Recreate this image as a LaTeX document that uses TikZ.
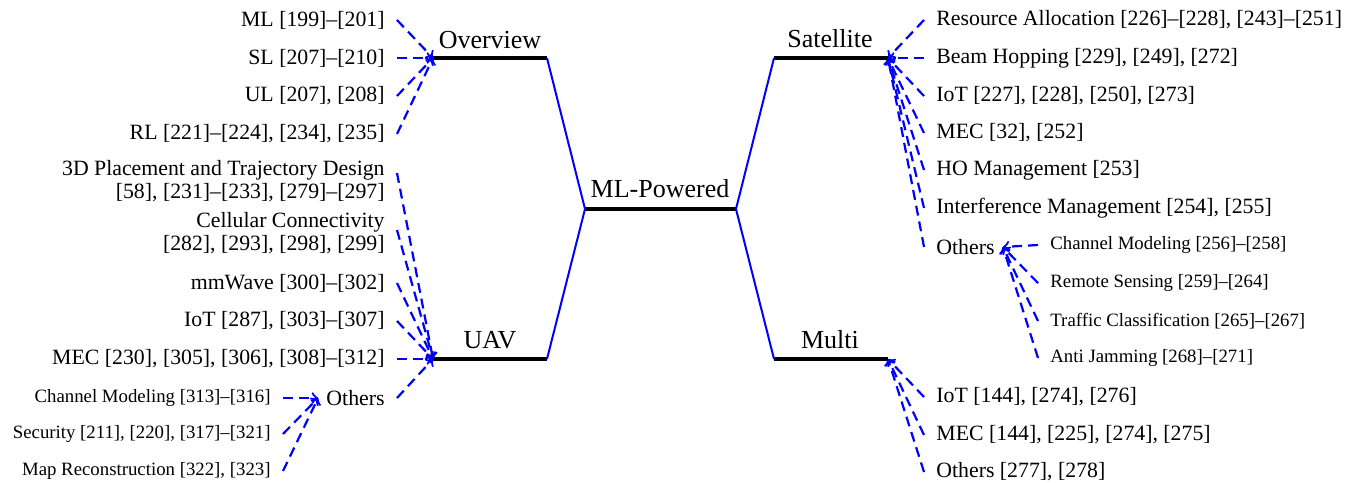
\documentclass[tikz,border=0pt]{standalone}
\usepackage{fontspec}
\setmainfont{Liberation Serif}
\begin{document}
\begin{tikzpicture}[x=0.5pt,y=-0.5pt,
  bar/.style={line width=2pt,black},
  link/.style={blue,line width=1pt},
  edge/.style={blue,line width=1.1pt,dash pattern=on 5pt off 3pt,->},
  head/.style={font=\fontsize{13}{15}\selectfont,inner sep=0pt,anchor=base},
  lleaf/.style={font=\fontsize{10.9}{11.5}\selectfont,anchor=east,inner xsep=6pt,inner ysep=1pt,align=right},
  rleaf/.style={font=\fontsize{10.9}{11.5}\selectfont,anchor=west,inner xsep=6pt,inner ysep=1pt,align=left},
  lsub/.style={lleaf,font=\fontsize{9.4}{11}\selectfont},
  rsub/.style={rleaf,font=\fontsize{9.4}{11}\selectfont}]
\useasboundingbox (0,0) rectangle (1348,482);

% headings
\node[head] (hov) at (490,48) {Overview};
\node[head] (huav) at (490,348) {UAV};
\node[head] (hml) at (660,197) {ML-Powered};
\node[head] (hsat) at (830,47) {Satellite};
\node[head] (hmul) at (830,348) {Multi};

% bars
\coordinate (ovL) at (433,58);  \coordinate (ovR) at (547,58);
\coordinate (uavL) at (433,359); \coordinate (uavR) at (547,359);
\coordinate (mlL) at (585,209); \coordinate (mlR) at (736,209);
\coordinate (satL) at (774,58); \coordinate (satR) at (888,58);
\coordinate (mulL) at (774,359); \coordinate (mulR) at (888,359);
\draw[bar] (ovL) -- (ovR);
\draw[bar] (uavL) -- (uavR);
\draw[bar] (mlL) -- (mlR);
\draw[bar] (satL) -- (satR);
\draw[bar] (mulL) -- (mulR);
\draw[link] (ovR) -- (mlL);
\draw[link] (uavR) -- (mlL);
\draw[link] (mlR) -- (satL);
\draw[link] (mlR) -- (mulL);

% Overview leaves
\node[lleaf] (o1) at (397,20) {ML [199]--[201]};
\node[lleaf] (o2) at (397,58) {SL [207]--[210]};
\node[lleaf] (o3) at (397,96) {UL [207], [208]};
\node[lleaf] (o4) at (397,134) {RL [221]--[224], [234], [235]};
\foreach \n in {o1,o2,o3,o4} \draw[edge] (\n.east) -- (ovL);

% UAV leaves
\node[lleaf] (u1) at (397,181) {3D Placement and Trajectory Design\\{}[58], [231]--[233], [279]--[297]};
\node[lleaf] (u2) at (397,233) {Cellular Connectivity\\{}[282], [293], [298], [299]};
\node[lleaf] (u3) at (397,283) {mmWave [300]--[302]};
\node[lleaf] (u4) at (397,321) {IoT [287], [303]--[307]};
\node[lleaf] (u5) at (397,359) {MEC [230], [305], [306], [308]--[312]};
\node[lleaf] (u6) at (397,398) {Others};
\draw[edge] ([yshift=4pt]u1.east) -- (uavL);
\draw[edge] ([yshift=1.5pt]u2.east) -- (uavL);
\foreach \n in {u3,u4,u5,u6} \draw[edge] (\n.east) -- (uavL);

\node[lsub] (us1) at (283,398) {Channel Modeling [313]--[316]};
\node[lsub] (us2) at (283,434) {Security [211], [220], [317]--[321]};
\node[lsub] (us3) at (283,471) {Map Reconstruction [322], [323]};
\foreach \n in {us1,us2,us3} \draw[edge] (\n.east) -- ([xshift=2pt]u6.west);

% Satellite leaves
\node[rleaf] (s1) at (924,20) {Resource Allocation [226]--[228], [243]--[251]};
\node[rleaf] (s2) at (924,58) {Beam Hopping [229], [249], [272]};
\node[rleaf] (s3) at (924,96) {IoT [227], [228], [250], [273]};
\node[rleaf] (s4) at (924,133) {MEC [32], [252]};
\node[rleaf] (s5) at (924,170) {HO Management [253]};
\node[rleaf] (s6) at (924,208) {Interference Management [254], [255]};
\node[rleaf] (s7) at (924,247) {Others};
\foreach \n in {s1,s2,s3,s4,s5,s6,s7} \draw[edge] (\n.west) -- (satR);

\node[rsub] (ss1) at (1038,245) {Channel Modeling [256]--[258]};
\node[rsub] (ss2) at (1038,283) {Remote Sensing [259]--[264]};
\node[rsub] (ss3) at (1038,321) {Traffic Classification [265]--[267]};
\node[rsub] (ss4) at (1038,358) {Anti Jamming [268]--[271]};
\foreach \n in {ss1,ss2,ss3,ss4} \draw[edge] (\n.west) -- ([xshift=-2pt]s7.east);

% Multi leaves
\node[rleaf] (m1) at (924,397) {IoT [144], [274], [276]};
\node[rleaf] (m2) at (924,435) {MEC [144], [225], [274], [275]};
\node[rleaf] (m3) at (924,472) {Others [277], [278]};
\foreach \n in {m1,m2,m3} \draw[edge] (\n.west) -- (mulR);
\end{tikzpicture}
\end{document}
